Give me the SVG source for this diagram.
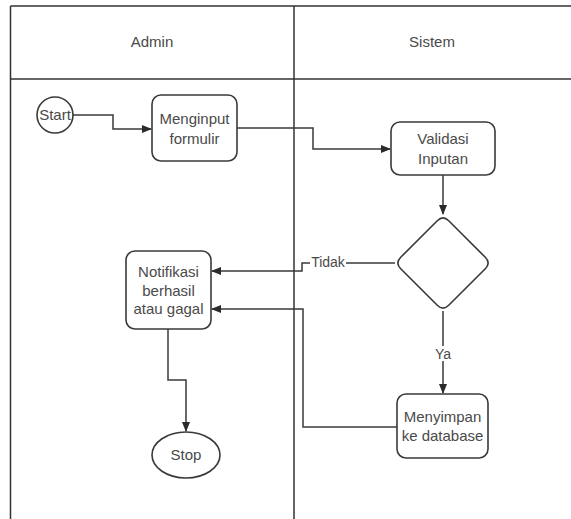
<svg xmlns="http://www.w3.org/2000/svg" width="571" height="519" viewBox="0 0 571 519">
  <defs>
    <marker id="arrow" markerWidth="10" markerHeight="8" refX="9" refY="4" orient="auto" markerUnits="userSpaceOnUse">
      <path d="M0,0 L10,4 L0,8 Z" fill="#2b2b2b"/>
    </marker>
    <style>
      .lane { stroke: #333; stroke-width: 1.5; fill: none; }
      .node { fill: #fff; stroke: #3a3a3a; stroke-width: 1.6; }
      .conn { fill: none; stroke: #3a3a3a; stroke-width: 1.5; marker-end: url(#arrow); }
      .lbl { font-family: "Liberation Sans", Arial, sans-serif; font-size: 15px; fill: #4a4a4a; text-anchor: middle; }
      .elbl { font-family: "Liberation Sans", Arial, sans-serif; font-size: 14px; fill: #4a4a4a; text-anchor: middle; }
    </style>
  </defs>
  <rect x="0" y="0" width="571" height="519" fill="#fff"/>

  <g id="swimlanes">
    <line class="lane" x1="10.5" y1="6" x2="571" y2="6"/>
    <line class="lane" x1="10.5" y1="6" x2="10.5" y2="519"/>
    <line class="lane" x1="10.5" y1="79" x2="571" y2="79"/>
    <line class="lane" x1="294" y1="6" x2="294" y2="519"/>
    <text class="lbl" x="152" y="47">Admin</text>
    <text class="lbl" x="432" y="47">Sistem</text>
  </g>

  <g id="connectors">
    <path class="conn" d="M73,115 H113 V129 H151"/>
    <path class="conn" d="M237,128 H313 V149 H390"/>
    <path class="conn" d="M443,175 V214"/>
    <path class="conn" d="M395,263 H302 V271 H212"/>
    <path class="conn" d="M443,311 V393"/>
    <path class="conn" d="M397,427 H303 V309 H212"/>
    <path class="conn" d="M168,329 V380 H186 V431"/>
    <rect x="310" y="255" width="36" height="14" fill="#fff"/>
    <text class="elbl" x="328" y="267">Tidak</text>
    <rect x="433" y="346" width="20" height="15" fill="#fff"/>
    <text class="elbl" x="443" y="359">Ya</text>
  </g>

  <g id="start">
    <circle class="node" cx="55" cy="115" r="18"/>
    <text class="lbl" x="55" y="120">Start</text>
  </g>

  <g id="menginput">
    <rect class="node" x="152" y="95" width="85" height="66" rx="9"/>
    <text class="lbl" x="194.5" y="124">Menginput</text>
    <text class="lbl" x="194.5" y="144">formulir</text>
  </g>

  <g id="validasi">
    <rect class="node" x="391" y="122" width="104" height="53" rx="9"/>
    <text class="lbl" x="443" y="144">Validasi</text>
    <text class="lbl" x="443" y="164">Inputan</text>
  </g>

  <g id="decision">
    <path class="node" d="M437.3,220.7 Q443,215 448.7,220.7 L485.3,257.3 Q491,263 485.3,268.7 L448.7,305.3 Q443,311 437.3,305.3 L400.7,268.7 Q395,263 400.7,257.3 Z"/>
  </g>

  <g id="notifikasi">
    <rect class="node" x="126" y="251" width="85" height="78" rx="9"/>
    <text class="lbl" x="168.5" y="277">Notifikasi</text>
    <text class="lbl" x="168.5" y="296">berhasil</text>
    <text class="lbl" x="168.5" y="314">atau gagal</text>
  </g>

  <g id="menyimpan">
    <rect class="node" x="397" y="394" width="91" height="64" rx="9"/>
    <text class="lbl" x="442.5" y="422">Menyimpan</text>
    <text class="lbl" x="442.5" y="441">ke database</text>
  </g>

  <g id="stop">
    <ellipse class="node" cx="186" cy="455" rx="34" ry="23"/>
    <text class="lbl" x="186" y="460">Stop</text>
  </g>
</svg>
